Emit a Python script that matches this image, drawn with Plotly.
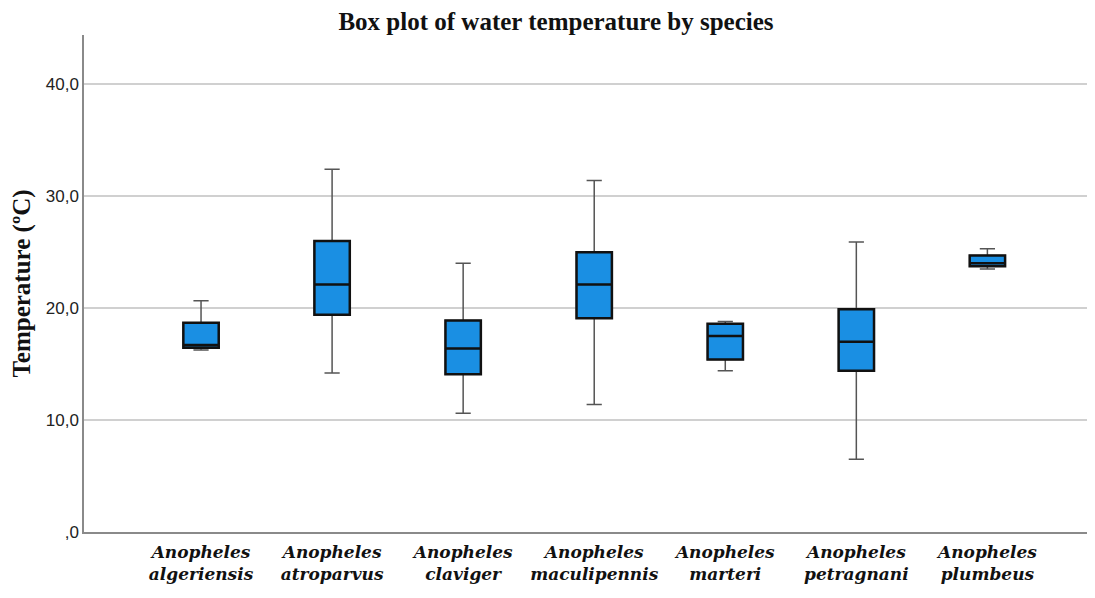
import plotly.graph_objects as go

# species and box statistics (deg C)
species = ['Anopheles algeriensis', 'Anopheles atroparvus', 'Anopheles claviger',
           'Anopheles maculipennis s.s.', 'Anopheles marteri', 'Anopheles petragnani',
           'Anopheles plumbeus']
tick_labels = ['<b><i>Anopheles<br>algeriensis</i></b>', '<b><i>Anopheles<br>atroparvus</i></b>',
               '<b><i>Anopheles<br>claviger</i></b>', '<b><i>Anopheles<br>maculipennis<br>s.s.</i></b>',
               '<b><i>Anopheles<br>marteri</i></b>', '<b><i>Anopheles<br>petragnani</i></b>',
               '<b><i>Anopheles<br>plumbeus</i></b>']
lower_whisker = [16.25, 14.2, 10.6, 11.4, 14.4, 6.5, 23.5]
q1 = [16.45, 19.4, 14.1, 19.1, 15.4, 14.4, 23.75]
median = [16.7, 22.1, 16.4, 22.1, 17.5, 17.0, 24.0]
q3 = [18.7, 26.0, 18.9, 25.0, 18.6, 19.9, 24.7]
upper_whisker = [20.65, 32.4, 24.0, 31.4, 18.8, 25.9, 25.3]

y_ticks = [0, 10, 20, 30, 40]
y_tick_text = [',0', '10,0', '20,0', '30,0', '40,0']

fill = '#1a8fe3'

fig = go.Figure()

# whiskers + caps in thin grey
fig.add_trace(go.Box(
    x=species, q1=q1, median=median, q3=q3,
    lowerfence=lower_whisker, upperfence=upper_whisker,
    width=0.27, whiskerwidth=0.43,
    fillcolor=fill, line=dict(color='#555555', width=1.5),
    boxpoints=False, showlegend=False, hoverinfo='skip'
))

# box body with black outline on top
fig.add_trace(go.Box(
    x=species, q1=q1, median=median, q3=q3,
    lowerfence=q1, upperfence=q3,
    width=0.27, whiskerwidth=0,
    fillcolor=fill, line=dict(color='#111111', width=2.5),
    boxpoints=False, showlegend=False
))

# page body has an 8px margin, so the figure is 16px smaller than the window
fig.update_layout(
    width=1079, height=582,
    paper_bgcolor='white', plot_bgcolor='white',
    margin=dict(l=76, r=0, t=27, b=58),
    title=dict(text='<b>Box plot of water temperature by species</b>',
               x=548/1079, xanchor='center', y=1 - 13/582, yanchor='middle',
               font=dict(family='Liberation Serif', size=25, color='#111111')),
    boxmode='overlay',
)

fig.update_xaxes(
    categoryorder='array', categoryarray=species,
    tickvals=species, ticktext=tick_labels,
    range=[-0.893, 6.76],
    showgrid=False, showline=True, linecolor='#8a8a8a', linewidth=1.5,
    ticks='', tickfont=dict(family='DejaVu Serif', size=17, color='#111111'),
    ticklabelstandoff=4,
    automargin=False,
)

fig.update_yaxes(
    range=[0, 44.4],
    tickvals=y_ticks, ticktext=y_tick_text,
    showgrid=True, gridcolor='#d0d0d0', gridwidth=1.5,
    showline=True, linecolor='#8a8a8a', linewidth=1.5,
    zeroline=False, ticks='',
    tickfont=dict(family='Liberation Sans', size=17, color='#222222'),
    title=dict(text='<b>Temperature (ºC)</b>', standoff=8,
               font=dict(family='Liberation Serif', size=25, color='#111111')),
    automargin=False,
)

fig.write_html('out.html')
